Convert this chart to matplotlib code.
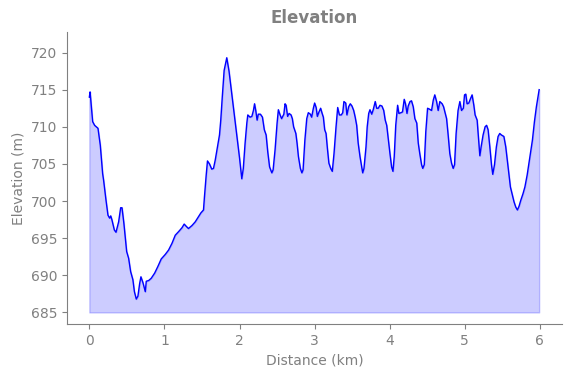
import numpy as np
import matplotlib
matplotlib.use('Agg')
import matplotlib.pyplot as plt

# distance (km) and elevation (m)
distance_km = [
    0.0, 0.01, 0.044, 0.07, 0.115, 0.146, 0.177, 0.19, 0.222, 0.248, 0.27, 0.285, 0.30,
    0.333, 0.355, 0.39, 0.417, 0.435, 0.46, 0.497, 0.523, 0.55, 0.58, 0.60, 0.625, 0.647,
    0.67, 0.687, 0.714, 0.745, 0.758, 0.79, 0.824, 0.87, 0.913, 0.957, 1.01, 1.055, 1.10,
    1.144, 1.19, 1.233, 1.263, 1.29, 1.32, 1.366, 1.41, 1.453, 1.485, 1.52, 1.533, 1.556,
    1.573, 1.60, 1.63, 1.653, 1.676, 1.706, 1.733, 1.75, 1.77, 1.795, 1.83, 1.86, 1.89,
    1.92, 1.95, 1.98, 2.0, 2.03, 2.05, 2.074, 2.097, 2.11, 2.14, 2.164, 2.185, 2.2, 2.216,
    2.234, 2.25, 2.278, 2.305, 2.33, 2.354, 2.376, 2.4, 2.43, 2.447, 2.473, 2.5, 2.517,
    2.54, 2.56, 2.59, 2.606, 2.62, 2.64, 2.66, 2.686, 2.703, 2.72, 2.75, 2.766, 2.784,
    2.81, 2.83, 2.846, 2.87, 2.895, 2.916, 2.943, 2.96, 2.983, 3.0, 3.02, 3.036, 3.058,
    3.08, 3.1, 3.116, 3.134, 3.152, 3.17, 3.19, 3.214, 3.235, 3.258, 3.285, 3.307, 3.33,
    3.355, 3.374, 3.39, 3.414, 3.43, 3.453, 3.475, 3.497, 3.52, 3.54, 3.56, 3.58, 3.604,
    3.626, 3.64, 3.657, 3.684, 3.70, 3.72, 3.737, 3.76, 3.78, 3.807, 3.826, 3.847, 3.87,
    3.896, 3.92, 3.94, 3.96, 3.98, 4.003, 4.025, 4.043, 4.06, 4.08, 4.105, 4.122, 4.149,
    4.17, 4.193, 4.21, 4.23, 4.246, 4.27, 4.29, 4.313, 4.335, 4.36, 4.38, 4.40, 4.424,
    4.44, 4.46, 4.48, 4.504, 4.525, 4.557, 4.58, 4.60, 4.624, 4.645, 4.667, 4.698, 4.717,
    4.734, 4.757, 4.778, 4.80, 4.823, 4.845, 4.863, 4.884, 4.91, 4.934, 4.956, 4.98,
    4.996, 5.013, 5.03, 5.053, 5.076, 5.097, 5.12, 5.137, 5.164, 5.18, 5.20, 5.217, 5.243,
    5.27, 5.29, 5.31, 5.333, 5.355, 5.372, 5.395, 5.42, 5.443, 5.465, 5.487, 5.52, 5.545,
    5.576, 5.607, 5.634, 5.655, 5.678, 5.70, 5.722, 5.745, 5.775, 5.80, 5.83, 5.864, 5.90,
    5.927, 5.953, 5.99,
]
elevation_m = [
    714.0, 714.7, 710.7, 710.2, 709.8, 707.5, 703.7, 702.8, 700.1, 698.1, 697.7, 698.0, 697.5,
    696.1, 695.8, 697.2, 699.1, 699.1, 697.0, 693.2, 692.3, 690.5, 689.4, 687.8, 686.8, 687.2,
    688.9, 689.8, 689.0, 687.8, 689.2, 689.3, 689.6, 690.3, 691.2, 692.2, 692.8, 693.4, 694.3,
    695.4, 695.9, 696.4, 696.9, 696.6, 696.3, 696.7, 697.2, 697.9, 698.4, 698.8, 700.6, 703.5,
    705.4, 705.0, 704.3, 704.4, 705.5, 707.3, 708.9, 710.9, 714.0, 717.6, 719.3, 717.5, 715.0,
    712.5, 710.0, 707.5, 705.8, 703.0, 704.4, 707.8, 710.5, 711.6, 711.3, 711.4, 712.2, 713.1, 712.2,
    710.9, 711.7, 711.7, 711.3, 709.6, 708.9, 706.6, 704.6, 703.8, 704.2, 706.9, 710.5, 712.3,
    711.6, 711.1, 711.7, 713.1, 712.9, 711.4, 711.8, 711.6, 711.1, 710.0, 709.1, 707.8, 706.0,
    704.4, 703.8, 704.2, 708.2, 711.1, 711.9, 711.7, 711.3, 712.5, 713.2, 712.6, 711.4, 712.0,
    712.5, 711.8, 711.3, 709.6, 709.1, 707.1, 705.1, 704.4, 704.0, 706.4, 710.0, 712.6, 711.6,
    711.6, 711.9, 713.4, 713.2, 711.6, 712.7, 713.1, 712.8, 712.2, 711.3, 710.2, 707.8, 706.0,
    704.6, 703.8, 704.4, 707.3, 710.0, 711.8, 712.3, 711.7, 712.3, 713.4, 712.5, 712.5, 712.9,
    712.8, 712.2, 710.9, 710.2, 708.4, 706.4, 704.6, 704.0, 706.0, 710.2, 712.9, 711.8, 711.9,
    712.0, 713.7, 713.1, 711.8, 712.8, 713.4, 713.5, 712.7, 711.1, 710.5, 707.8, 706.4, 704.9,
    704.4, 704.9, 709.3, 712.5, 712.4, 712.2, 713.6, 714.3, 713.4, 712.2, 713.4, 713.1, 712.7,
    712.0, 711.1, 708.9, 706.4, 705.1, 704.4, 704.9, 709.1, 712.2, 713.4, 712.2, 712.5,
    714.3, 714.4, 713.1, 713.2, 713.8, 714.3, 712.9, 711.6, 710.9, 708.7, 706.1, 707.3, 708.9,
    710.0, 710.2, 709.6, 707.3, 704.9, 703.6, 704.9, 707.3, 708.7, 709.1, 708.9, 708.7, 707.3,
    704.6, 701.9, 700.8, 699.9, 699.2, 698.8, 699.3, 700.1, 701.0, 701.9, 703.5, 705.8, 708.2,
    710.7, 712.7, 715.0,
]
base_elevation = 685

grey = '#808080'

fig = plt.figure(figsize=(5.71, 3.78), dpi=100)
ax = fig.add_axes([0.117, 0.143, 0.868, 0.773])

ax.fill_between(distance_km, elevation_m, base_elevation, color='blue', alpha=0.2)
ax.plot(distance_km, elevation_m, color='blue', linewidth=1)

ax.set_xlim(-0.3, 6.3)
ax.set_ylim(683.45, 722.8)
ax.set_yticks(np.arange(685, 721, 5))

ax.set_title('Elevation', color=grey, fontweight='bold', fontsize=12)
ax.set_xlabel('Distance (km)', color=grey)
ax.set_ylabel('Elevation (m)', color=grey)

for side in ['top', 'right']:
    ax.spines[side].set_visible(False)
for side in ['left', 'bottom']:
    ax.spines[side].set_color(grey)
ax.tick_params(colors=grey, labelcolor=grey)

fig.savefig('out.png', dpi=100)
